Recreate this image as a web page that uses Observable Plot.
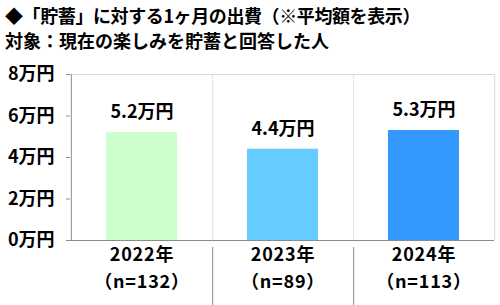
<!DOCTYPE html>
<html>
<head>
<meta charset="utf-8">
<script src="https://cdn.jsdelivr.net/npm/d3@7"></script>
<script src="https://cdn.jsdelivr.net/npm/@observablehq/plot@0.6"></script>
<style>
  html, body { margin: 0; padding: 0; background: #fff; }
  #wrap { position: relative; width: 500px; height: 305px; overflow: hidden; font-family: "Noto Sans CJK JP", sans-serif; }
  #chart { position: absolute; left: 0; top: 0; }
  .t { position: absolute; left: 5px; font-weight: bold; font-size: 18px; color: #000; white-space: nowrap; line-height: 1; }
  .xl text { letter-spacing: 0.8px; }
</style>
</head>
<body>
<div id="wrap">
  <div id="chart"></div>
  <div class="t" id="t1" style="top:6px; letter-spacing:-0.4px;"></div>
  <div class="t" id="t2" style="top:31px;"></div>
</div>
<script>
const titleLine1 = "◆「貯蓄」に対する1ヶ月の出費（※平均額を表示）";
const titleLine2 = "対象：現在の楽しみを貯蓄と回答した人";
const years = ["2022年", "2023年", "2024年"];
const sampleLabels = ["（n=132）", "（n=89）", "（n=113）"];
const values = [5.2, 4.4, 5.3];
const yTicks = [0, 2, 4, 6, 8];
const unit = "万円";

document.getElementById("t1").textContent = titleLine1;
document.getElementById("t2").textContent = titleLine2;

const data = years.map((year, i) => ({year, value: values[i], n: sampleLabels[i]}));
const font = "Noto Sans CJK JP";
const half = 70.67; // half of a band step

const chart = Plot.plot({
  width: 500,
  height: 305,
  marginTop: 74,
  marginBottom: 65,
  marginLeft: 70,
  marginRight: 6,
  style: {fontFamily: font, color: "#000", background: "#fff", overflow: "visible"},
  x: {domain: years, paddingInner: 0.5, paddingOuter: 0.25, axis: null},
  y: {domain: [0, 8], axis: null},
  color: {domain: years, range: ["#ccffcc", "#66ccff", "#3399ff"]},
  marks: [
    Plot.ruleY([8], {stroke: "#d9d9d9"}),
    Plot.ruleX([years[years.length - 1]], {dx: half, stroke: "#d9d9d9"}),
    Plot.ruleX(years.slice(0, -1), {dx: half, stroke: "#c4c4c4", strokeDasharray: "1,1"}),
    Plot.ruleX(years.slice(0, -1), {x: d => d, y1: () => 0, y2: () => 0, dx: half, insetTop: 7, insetBottom: -65, stroke: "#8c8c8c", clip: false}),
    Plot.barY(data, {x: "year", y: "value", fill: "year"}),
    Plot.ruleY([0], {stroke: "#8c8c8c"}),
    Plot.ruleX([years[0]], {dx: -half, stroke: "#8c8c8c"}),
    Plot.axisY({ticks: yTicks, tickFormat: d => d + unit, label: null, tickSize: 4, tickPadding: 12, stroke: "#8c8c8c", fill: "#000", fontSize: 18, fontWeight: "bold"}),
    Plot.text(data, {x: "year", y: "value", text: d => d.value.toFixed(1) + unit, dy: -20, fontSize: 18, fontWeight: "bold", fill: "#000"}),
    Plot.text(data, {x: "year", text: "year", frameAnchor: "bottom", dy: 20, fontSize: 18, fontWeight: "bold", fill: "#000", className: "xl"}),
    Plot.text(data, {x: "year", text: "n", frameAnchor: "bottom", dy: 47, fontSize: 18, fontWeight: "bold", fill: "#000", className: "xl"})
  ]
});
document.getElementById("chart").appendChild(chart);
</script>
</body>
</html>
